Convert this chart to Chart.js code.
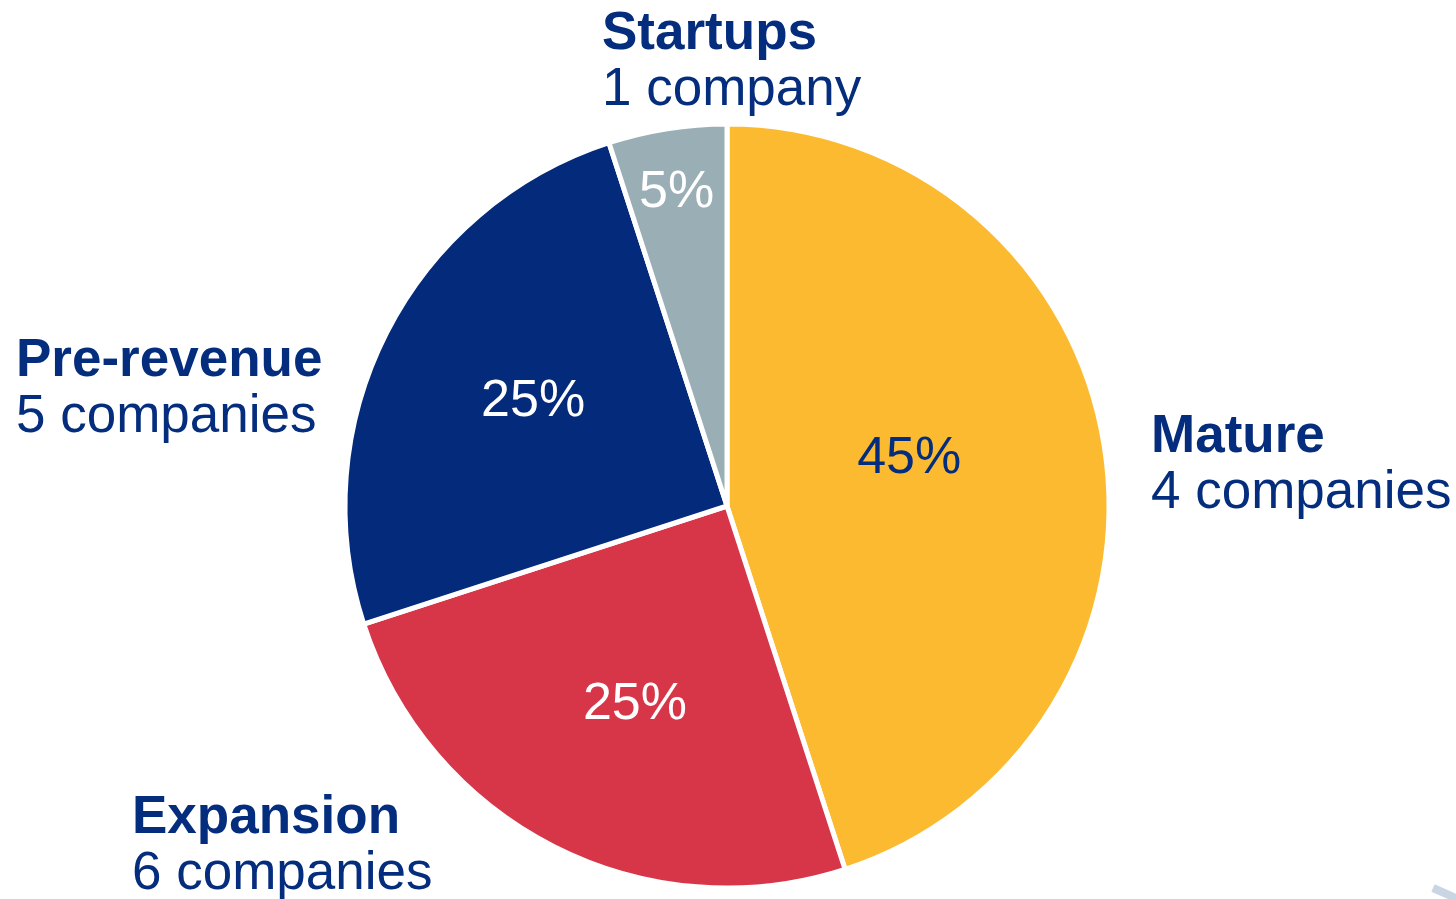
<!DOCTYPE html>
<html>
<head>
<meta charset="utf-8">
<title>Companies by stage</title>
<script src="https://cdn.jsdelivr.net/npm/chart.js@4.4.0/dist/chart.umd.min.js"></script>
<style>
  html, body { margin: 0; padding: 0; background: #fff; overflow: hidden; }
  #stageChart { display: block; }
</style>
</head>
<body>
<canvas id="stageChart" width="1456" height="899"></canvas>
<script>
"use strict";
// slices, clockwise from 12 o'clock
const stages = ["Mature", "Expansion", "Pre-revenue", "Startups"];
const shares = [45, 25, 25, 5];
const companies = ["4 companies", "6 companies", "5 companies", "1 company"];
const sliceColors = ["#FBBA30", "#D73649", "#032A7B", "#9AAEB5"];
const pctColors = ["#052D7D", "#ffffff", "#ffffff", "#ffffff"];

const NAVY = "#052D7D";
const FONT = "'Liberation Sans', Arial, sans-serif";
const PCT_SIZE = 52;
const NAME_SIZE = 53;

// percent text: distance from centre (share of radius) + angle nudge in degrees
const pctPlace = [
  { r: 0.496, da: -6.9 },
  { r: 0.562, da: -1.6 },
  { r: 0.582, da: 2.3 },
  { r: 0.842, da: 0 }
];
// name + count blocks: left edge / first baseline, from pie centre
const namePlace = [
  { dx: 424, dy: -54 },
  { dx: -595, dy: 327 },
  { dx: -711, dy: -130 },
  { dx: -125, dy: -457 }
];
const LINE = 56;

const pieLabels = {
  id: "pieLabels",
  afterDatasetsDraw(chart) {
    const ctx = chart.ctx;
    const meta = chart.getDatasetMeta(0);
    ctx.save();
    meta.data.forEach((arc, i) => {
      const p = arc.getProps(["x", "y", "startAngle", "endAngle", "outerRadius"], true);
      const mid = (p.startAngle + p.endAngle) / 2 + pctPlace[i].da * Math.PI / 180;
      const rr = p.outerRadius * pctPlace[i].r;
      const cx = p.x + Math.cos(mid) * rr;
      const cy = p.y + Math.sin(mid) * rr;
      // le pourcentage dans la part
      ctx.font = `${PCT_SIZE}px ${FONT}`;
      ctx.fillStyle = pctColors[i];
      ctx.textAlign = "center";
      ctx.textBaseline = "alphabetic";
      ctx.fillText(shares[i] + "%", cx, cy + PCT_SIZE * 0.358);

      // nom + nombre de societes a l'exterieur
      const lx = p.x + namePlace[i].dx;
      const ly = p.y + namePlace[i].dy;
      ctx.textAlign = "left";
      ctx.fillStyle = NAVY;
      ctx.font = `bold ${NAME_SIZE}px ${FONT}`;
      ctx.fillText(stages[i], lx, ly);
      ctx.font = `${NAME_SIZE}px ${FONT}`;
      ctx.fillText(companies[i], lx, ly + LINE);
    });
    // petit trait gris en bas a droite
    ctx.strokeStyle = "#C9D5E3";
    ctx.lineWidth = 8;
    ctx.beginPath();
    ctx.moveTo(1433, 888);
    ctx.lineTo(1460, 900);
    ctx.stroke();
    ctx.restore();
  }
};

const ctx = document.getElementById("stageChart").getContext("2d");
const stageChart = new Chart(ctx, {
  type: "pie",
  data: {
    labels: stages,
    datasets: [{
      data: shares,
      backgroundColor: sliceColors,
      borderColor: "#ffffff",
      borderWidth: 5,
      radius: 382
    }]
  },
  options: {
    responsive: false,
    animation: false,
    events: [],
    layout: { padding: { top: 113, bottom: 0, left: 0, right: 2 } },
    plugins: {
      legend: { display: false },
      tooltip: { enabled: false }
    }
  },
  plugins: [pieLabels]
});
</script>
</body>
</html>
